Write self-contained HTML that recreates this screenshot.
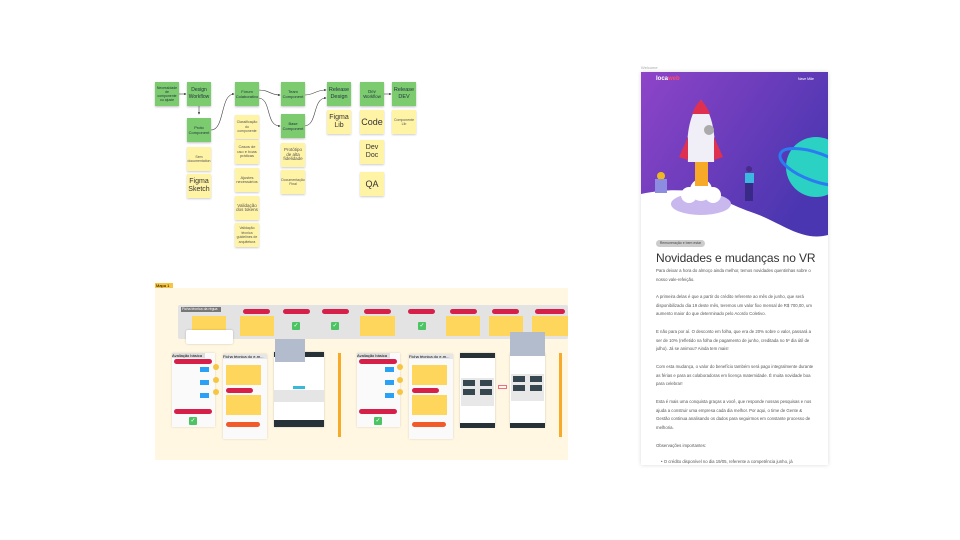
<!DOCTYPE html>
<html><head><meta charset="utf-8"><style>
*{margin:0;padding:0;box-sizing:border-box}
body{width:960px;height:540px;background:#fff;position:relative;overflow:hidden;font-family:"Liberation Sans",sans-serif}
.a{position:absolute}
.g{position:absolute;width:24px;height:24px;background:#7ccb6e;box-shadow:0 1px 2px rgba(0,0,0,.25);font-size:4.3px;line-height:5px;color:#234;text-align:center;display:flex;align-items:center;justify-content:center;padding:1px;overflow:hidden}
.y{position:absolute;width:24px;height:24px;background:#fff3a6;box-shadow:0 1px 2px rgba(0,0,0,.2);font-size:3.5px;line-height:4.5px;color:#555;text-align:center;display:flex;align-items:center;justify-content:center;padding:1px}
.g.b{font-size:7px;line-height:7px}
.y.b{font-size:9px;line-height:10px;color:#333}
.pill{position:absolute;height:5px;background:#d6204a;border-radius:3px}
.ok{position:absolute;width:8px;height:8px;background:#4cc463;border-radius:1px;color:#fff;font-size:6px;line-height:8px;text-align:center}
.yn{position:absolute;background:#ffd65c}
.card{position:absolute;background:#fafafa;box-shadow:0 0 2px rgba(0,0,0,.15)}
.p{position:absolute;left:656px;width:160px;font-size:4.3px;line-height:8.7px;color:#555}
</style></head><body>
<svg class="a" style="left:0;top:0" width="960" height="540">
<defs><marker id="ar" markerWidth="4" markerHeight="4" refX="3" refY="2" orient="auto"><path d="M0,0L4,2L0,4z" fill="#333"/></marker></defs>
<g stroke="#444" stroke-width="0.6" fill="none" marker-end="url(#ar)">
<path d="M178,94 L186,94"/>
<path d="M199,106 L199,114"/>
<path d="M211,130 C225,130 220,94 234,94"/>
<path d="M258,90 C270,90 270,95 280,95"/>
<path d="M258,98 C272,98 265,126 280,126"/>
<path d="M304,95 C315,95 315,90 326,90"/>
<path d="M304,126 C318,126 312,98 326,98"/>
<path d="M383,94 L391,94"/>
</g>
</svg>
<div class="g" style="left:155px;top:82px;font-size:3.5px;line-height:4.2px">Necessidade de componente ou ajuste</div>
<div class="g b" style="left:187px;top:82px;font-size:5px">Design Workflow</div>
<div class="g" style="left:187px;top:118px;font-size:4px">Proto Component</div>
<div class="y" style="left:187px;top:147px">Sem documentation</div>
<div class="y b" style="left:187px;top:174px;font-size:7px;line-height:8px">Figma Sketch</div>
<div class="g" style="left:235px;top:82px;font-size:4px">Fórum Colaborativo</div>
<div class="y" style="left:235px;top:115px">Classificação do componente</div>
<div class="y" style="left:235px;top:140px;font-size:4px">Casos de uso e boas práticas</div>
<div class="y" style="left:235px;top:168px;font-size:4px">Ajustes necessários</div>
<div class="y" style="left:235px;top:196px;font-size:4.5px">Validação dos tokens</div>
<div class="y" style="left:235px;top:223px">Validação técnica guidelines de arquitetura</div>
<div class="g" style="left:281px;top:82px;font-size:4px">Team Component</div>
<div class="g" style="left:281px;top:114px;font-size:4px">Base Component</div>
<div class="y" style="left:281px;top:143px;font-size:4.5px">Protótipo de alta fidelidade</div>
<div class="y" style="left:281px;top:170px">Documentação Final</div>
<div class="g b" style="left:327px;top:82px;font-size:5.5px">Release Design</div>
<div class="y b" style="left:327px;top:110px;font-size:7px;line-height:8px">Figma Lib</div>
<div class="g" style="left:360px;top:82px">Dev Workflow</div>
<div class="y b" style="left:360px;top:110px">Code</div>
<div class="y b" style="left:360px;top:140px;font-size:7px;line-height:8px">Dev Doc</div>
<div class="y b" style="left:360px;top:172px">QA</div>
<div class="g b" style="left:392px;top:82px;font-size:5.5px">Release DEV</div>
<div class="y" style="left:392px;top:110px">Componente Lib</div>

<div class="a" style="left:155px;top:283px;width:18px;height:5px;background:#f7c544;font-size:4px;line-height:5px;padding-left:1px">Mapa 1</div>
<div class="a" style="left:155px;top:288px;width:413px;height:172px;background:#fff7e1"></div>
<div class="a" style="left:178px;top:305px;width:390px;height:34px;background:#e3e3e3;border-radius:2px"></div>
<div class="a" style="left:181px;top:307px;width:40px;height:5px;background:#777;color:#fff;font-size:3.5px;line-height:5px;padding-left:1px">Ficha técnica da régua</div>
<div class="pill" style="left:243px;top:309px;width:27px"></div>
<div class="pill" style="left:283px;top:309px;width:27px"></div>
<div class="pill" style="left:322px;top:309px;width:27px"></div>
<div class="pill" style="left:364px;top:309px;width:27px"></div>
<div class="pill" style="left:408px;top:309px;width:27px"></div>
<div class="pill" style="left:450px;top:309px;width:27px"></div>
<div class="pill" style="left:492px;top:309px;width:27px"></div>
<div class="pill" style="left:535px;top:309px;width:30px"></div>
<div class="yn" style="left:192px;top:316px;width:34px;height:20px"></div>
<div class="yn" style="left:240px;top:316px;width:34px;height:20px"></div>
<div class="ok" style="left:292px;top:322px">✓</div>
<div class="ok" style="left:331px;top:322px">✓</div>
<div class="yn" style="left:360px;top:316px;width:35px;height:20px"></div>
<div class="ok" style="left:418px;top:322px">✓</div>
<div class="yn" style="left:446px;top:316px;width:34px;height:20px"></div>
<div class="yn" style="left:489px;top:316px;width:34px;height:20px"></div>
<div class="yn" style="left:532px;top:316px;width:36px;height:20px"></div>
<div class="a" style="left:186px;top:330px;width:47px;height:14px;background:#fff;border-radius:2px;box-shadow:0 0 2px rgba(0,0,0,.2)"></div>

<div class="card" style="left:172px;top:353px;width:43px;height:74px"></div>
<div class="a" style="left:172px;top:353px;width:33px;height:5px;background:#ddd;font-size:4px;line-height:5px">Avaliação básica</div>
<div class="pill" style="left:174px;top:359px;width:38px"></div>
<div class="a" style="left:200px;top:367px;width:9px;height:5px;background:#2aa1f5"></div>
<div class="a" style="left:200px;top:380px;width:9px;height:5px;background:#2aa1f5"></div>
<div class="a" style="left:200px;top:393px;width:9px;height:5px;background:#2aa1f5"></div>
<div class="a" style="left:213px;top:364px;width:6px;height:6px;border-radius:50%;background:#f7c544"></div>
<div class="a" style="left:213px;top:377px;width:6px;height:6px;border-radius:50%;background:#f7c544"></div>
<div class="a" style="left:213px;top:389px;width:6px;height:6px;border-radius:50%;background:#f7c544"></div>
<div class="pill" style="left:174px;top:409px;width:38px"></div>
<div class="ok" style="left:189px;top:417px">✓</div>
<div class="card" style="left:223px;top:354px;width:44px;height:85px"></div>
<div class="a" style="left:223px;top:354px;width:44px;height:5px;background:#e6e6e6;font-size:4px;line-height:5px">Ficha técnica do e-m...</div>
<div class="yn" style="left:226px;top:365px;width:35px;height:20px"></div>
<div class="pill" style="left:226px;top:388px;width:27px"></div>
<div class="yn" style="left:226px;top:395px;width:35px;height:20px"></div>
<div class="pill" style="left:226px;top:422px;width:34px;background:#f25a2a"></div>
<div class="a" style="left:274px;top:352px;width:50px;height:75px;background:#fff;box-shadow:0 0 2px rgba(0,0,0,.2)"></div>
<div class="a" style="left:274px;top:352px;width:50px;height:5px;background:#263238"></div>
<div class="a" style="left:274px;top:390px;width:50px;height:12px;background:#e5e5e5"></div>
<div class="a" style="left:293px;top:386px;width:12px;height:3px;background:#3ab8d8"></div>
<div class="a" style="left:274px;top:420px;width:50px;height:7px;background:#263238"></div>
<div class="a" style="left:275px;top:339px;width:30px;height:23px;background:#b3bccc"></div>
<div class="a" style="left:338px;top:353px;width:3px;height:84px;background:#f7a928"></div>

<div class="card" style="left:357px;top:353px;width:43px;height:74px"></div>
<div class="a" style="left:357px;top:353px;width:33px;height:5px;background:#ddd;font-size:4px;line-height:5px">Avaliação básica</div>
<div class="pill" style="left:359px;top:359px;width:38px"></div>
<div class="a" style="left:385px;top:367px;width:9px;height:5px;background:#2aa1f5"></div>
<div class="a" style="left:385px;top:380px;width:9px;height:5px;background:#2aa1f5"></div>
<div class="a" style="left:385px;top:393px;width:9px;height:5px;background:#2aa1f5"></div>
<div class="a" style="left:397px;top:364px;width:6px;height:6px;border-radius:50%;background:#f7c544"></div>
<div class="a" style="left:397px;top:377px;width:6px;height:6px;border-radius:50%;background:#f7c544"></div>
<div class="a" style="left:397px;top:389px;width:6px;height:6px;border-radius:50%;background:#f7c544"></div>
<div class="pill" style="left:359px;top:409px;width:38px"></div>
<div class="ok" style="left:374px;top:417px">✓</div>
<div class="card" style="left:409px;top:354px;width:44px;height:85px"></div>
<div class="a" style="left:409px;top:354px;width:44px;height:5px;background:#e6e6e6;font-size:4px;line-height:5px">Ficha técnica do e-m...</div>
<div class="yn" style="left:412px;top:365px;width:35px;height:20px"></div>
<div class="pill" style="left:412px;top:388px;width:27px"></div>
<div class="yn" style="left:412px;top:395px;width:35px;height:20px"></div>
<div class="pill" style="left:412px;top:422px;width:34px;background:#f25a2a"></div>
<div class="a" style="left:460px;top:353px;width:35px;height:74px;background:#fff;box-shadow:0 0 2px rgba(0,0,0,.2)"></div>
<div class="a" style="left:460px;top:353px;width:35px;height:5px;background:#263238"></div>
<div class="a" style="left:461px;top:378px;width:33px;height:28px;background:#e8e8e8"></div>
<div class="a" style="left:463px;top:380px;width:12px;height:6px;background:#37474f"></div>
<div class="a" style="left:480px;top:380px;width:12px;height:6px;background:#37474f"></div>
<div class="a" style="left:463px;top:389px;width:12px;height:6px;background:#37474f"></div>
<div class="a" style="left:480px;top:389px;width:12px;height:6px;background:#37474f"></div>
<div class="a" style="left:460px;top:423px;width:35px;height:5px;background:#263238"></div>
<div class="a" style="left:498px;top:385px;width:9px;height:4px;border:1px solid #f06b8a"></div>
<div class="a" style="left:510px;top:353px;width:35px;height:74px;background:#fff;box-shadow:0 0 2px rgba(0,0,0,.2)"></div>
<div class="a" style="left:511px;top:374px;width:33px;height:27px;background:#e8e8e8"></div>
<div class="a" style="left:513px;top:376px;width:12px;height:6px;background:#37474f"></div>
<div class="a" style="left:530px;top:376px;width:12px;height:6px;background:#37474f"></div>
<div class="a" style="left:513px;top:385px;width:12px;height:6px;background:#37474f"></div>
<div class="a" style="left:530px;top:385px;width:12px;height:6px;background:#37474f"></div>
<div class="a" style="left:510px;top:423px;width:35px;height:5px;background:#263238"></div>
<div class="a" style="left:510px;top:332px;width:35px;height:24px;background:#b3bccc"></div>
<div class="a" style="left:559px;top:353px;width:3px;height:84px;background:#f7a928"></div>

<div class="a" style="left:641px;top:65px;font-size:4px;color:#aaa">Welcome</div>
<div class="a" style="left:641px;top:72px;width:187px;height:393px;background:#fff;box-shadow:0 0 4px rgba(0,0,0,.15);overflow:hidden">
<svg width="187" height="175" style="position:absolute;left:0;top:0">
<defs><linearGradient id="pg" x1="0" y1="0" x2="1" y2="0.6"><stop offset="0" stop-color="#8e44c8"/><stop offset="1" stop-color="#4a36b0"/></linearGradient></defs>
<path d="M0,0H187V163C160,170 140,150 110,140 C80,130 60,110 0,122Z" fill="url(#pg)"/>
<ellipse cx="60" cy="132" rx="30" ry="11" fill="#c9b8ee"/>
<circle cx="60" cy="118" r="11" fill="#fff"/><circle cx="48" cy="123" r="8" fill="#fff"/><circle cx="72" cy="123" r="8" fill="#fff"/>
<rect x="54" y="80" width="13" height="34" fill="#f7a928"/>
<path d="M47,90 C44,60 50,40 60,28 C70,40 76,60 73,90Z" fill="#f0eef7"/>
<path d="M51,42 C54,35 57,30 60,28 C63,31 67,37 69,42Z" fill="#e0304f"/>
<path d="M47,65 L38,85 L47,88Z" fill="#e0304f"/><path d="M73,65 L82,85 L73,88Z" fill="#e0304f"/>
<circle cx="68" cy="58" r="5" fill="#aaa"/>
<circle cx="175" cy="95" r="30" fill="#2bd2c4"/>
<ellipse cx="175" cy="95" rx="38" ry="14" fill="none" stroke="#2a7cf0" stroke-width="3" transform="rotate(20 175 95)"/>
<circle cx="20" cy="104" r="4" fill="#f0b820"/><rect x="14" y="107" width="12" height="14" fill="#8c8ce0"/>
<circle cx="108" cy="97" r="3" fill="#4a2a8a"/><rect x="104" y="101" width="9" height="10" fill="#3bb8e0"/><rect x="104" y="111" width="8" height="18" fill="#3a2a88"/>
</svg>
<div class="a" style="left:15px;top:4px;color:#fff;font-size:6px;font-weight:bold">loca<span style="color:#ff4d6d">web</span></div>
<div class="a" style="left:157px;top:5px;color:#fff;font-size:3.5px">Nave Mãe</div>
</div>
<div class="a" style="left:656px;top:240px;width:49px;height:7px;background:#ccc;border-radius:4px;font-size:3.5px;line-height:7px;text-align:center;color:#444">Remuneração e bem estar</div>
<div class="a" style="left:656px;top:251px;font-size:12px;color:#333;white-space:nowrap;letter-spacing:-0.1px">Novidades e mudanças no VR</div>
<div class="p" style="top:267px">Para deixar a hora do almoço ainda melhor, temos novidades quentinhas sobre o nosso vale-refeição.</div>
<div class="p" style="top:293px">A primeira delas é que a partir do crédito referente ao mês de junho, que será disponibilizado dia 19 deste mês, teremos um valor fixo mensal de R$ 700,00, um aumento maior do que determinado pelo Acordo Coletivo.</div>
<div class="p" style="top:328px">E não para por aí. O desconto em folha, que era de 20% sobre o valor, passará a ser de 10% (refletido na folha de pagamento de junho, creditada no 5º dia útil de julho). Já se animou? Ainda tem mais!</div>
<div class="p" style="top:363px">Com esta mudança, o valor do benefício também será pago integralmente durante as férias e para as colaboradoras em licença maternidade. É muita novidade boa para celebrar!</div>
<div class="p" style="top:398px">Esta é mais uma conquista graças a você, que responde nossas pesquisas e nos ajuda a construir uma empresa cada dia melhor. Por aqui, o time de Gente &amp; Gestão continua analisando os dados para seguirmos em constante processo de melhoria.</div>
<div class="p" style="top:442px">Observações importantes:</div>
<div class="a" style="left:641px;top:458px;width:187px;height:7px;overflow:hidden"><div style="position:absolute;left:20px;top:1px;font-size:4.3px;color:#555;white-space:nowrap">• O crédito disponível no dia 19/05, referente a competência junho, já</div></div>
</body></html>
